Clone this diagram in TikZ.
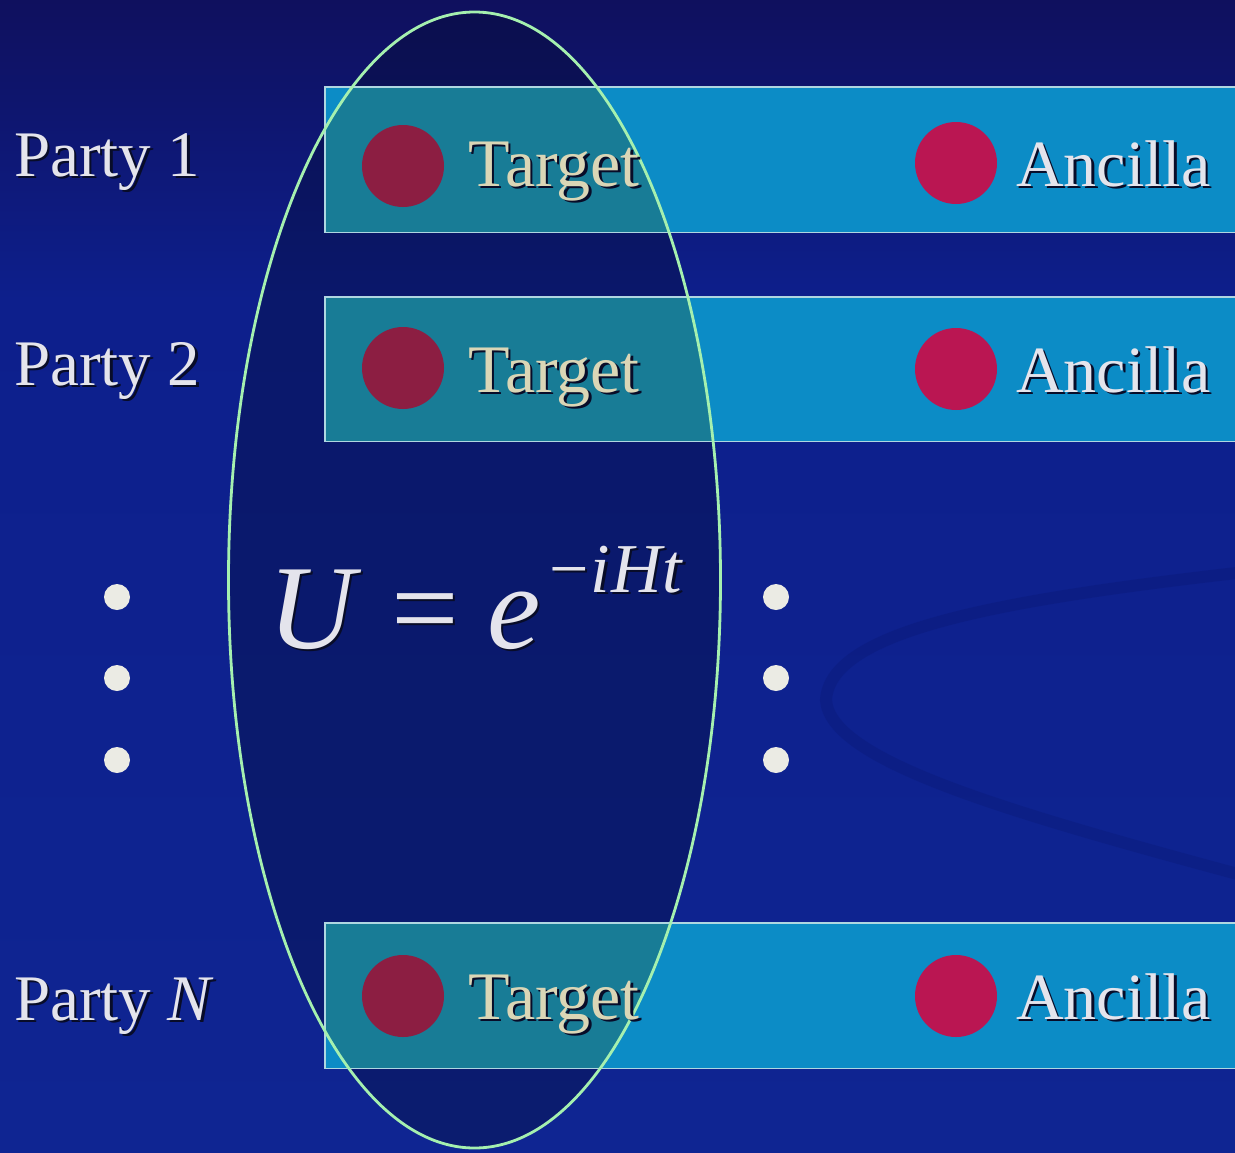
\documentclass[tikz,border=0pt]{standalone}
\usepackage{fontspec}
\setmainfont{Liberation Serif}
\usetikzlibrary{shapes.geometric}

\definecolor{bgtop}{RGB}{15,16,94}
\definecolor{bgmid}{RGB}{13,31,140}
\definecolor{bgbot}{RGB}{15,37,146}
\definecolor{swooshc}{RGB}{9,22,112}
\definecolor{ovalshade}{RGB}{4,10,40}
\definecolor{ovalline}{RGB}{165,240,175}
\definecolor{barcyan}{RGB}{12,140,198}
\definecolor{barteal}{RGB}{24,124,150}
\definecolor{barline}{RGB}{175,215,225}
\definecolor{qubitout}{RGB}{186,22,82}
\definecolor{qubitin}{RGB}{140,30,66}
\definecolor{labelc}{RGB}{228,228,236}
\definecolor{targetc}{RGB}{218,214,182}
\definecolor{dotc}{RGB}{235,235,228}
\definecolor{shadowc}{RGB}{8,12,40}

% text with a small drop shadow
\newcommand\shadowed[2]{\makebox[0pt][l]{\hspace{2.5pt}\raisebox{-2.5pt}{\color{shadowc}#2}}{\color{#1}#2}}

\begin{document}
\begin{tikzpicture}[x=1pt,y=-1pt,
  oval/.style={ellipse, minimum width=492pt, minimum height=1136pt, inner sep=0pt},
  bar/.style={rectangle, anchor=north west, fill=barcyan, inner sep=0pt, minimum width=930pt},
  barframe/.style={draw=barline, line width=1.6pt},
  qubit/.style={circle, minimum size=82pt, inner sep=0pt},
  party/.style={anchor=base west, inner sep=0pt, font=\fontsize{65}{70}\selectfont},
  tlabel/.style={anchor=base west, inner sep=0pt, font=\fontsize{68}{72}\selectfont},
  alabel/.style={anchor=base west, inner sep=0pt, font=\fontsize{66}{70}\selectfont},
  vdot/.style={circle, fill=dotc, minimum size=26pt, inner sep=0pt}]
\useasboundingbox (0,0) rectangle (1235,1152);
\clip (0,0) rectangle (1235,1152);

% background
\shade[top color=bgtop, bottom color=bgmid] (0,0) rectangle (1235,300);
\shade[top color=bgmid, bottom color=bgbot] (0,300) rectangle (1235,1152);
\draw[swooshc, line width=12pt, line cap=round, opacity=0.3]
  (1245,572) .. controls (1000,600) and (830,630) .. (826,700)
  .. controls (830,760) and (1000,810) .. (1245,876);

% the oval region, a translucent darkening of the background
\node[oval, fill=ovalshade, fill opacity=0.32] (U) at (474.5,580) {};

% party bars
\node[bar, minimum height=145pt] (bar1) at (325,87) {};
\node[bar, minimum height=144pt] (bar2) at (325,297) {};
\node[bar, minimum height=145pt] (barN) at (325,923) {};
\begin{scope}
  \clip (U.center) ellipse [x radius=246pt, y radius=568pt];
  \foreach \b in {bar1,bar2,barN}
    \fill[barteal] (\b.north west) rectangle (\b.south east);
\end{scope}
\foreach \b in {bar1,bar2,barN}
  \draw[barframe] (\b.north west) rectangle (\b.south east);

% qubits
\node[qubit, fill=qubitin]  (t1) at (403,166) {};
\node[qubit, fill=qubitout] (a1) at (956,163) {};
\node[qubit, fill=qubitin]  (t2) at (403,368) {};
\node[qubit, fill=qubitout] (a2) at (956,369) {};
\node[qubit, fill=qubitin]  (tN) at (403,996) {};
\node[qubit, fill=qubitout] (aN) at (956,996) {};

% oval outline
\draw[ovalline, line width=2.8pt] (U.center) ellipse [x radius=246pt, y radius=568pt];

% labels
\node[party] (p1) at (14,176) {\shadowed{labelc}{Party 1}};
\node[party] (p2) at (14,385) {\shadowed{labelc}{Party 2}};
\node[party] (pN) at (14,1020) {\shadowed{labelc}{Party \textit{N}}};

\node[tlabel] (l1) at (468,186) {\shadowed{targetc}{Target}};
\node[tlabel] (l2) at (468,392) {\shadowed{targetc}{Target}};
\node[tlabel] (lN) at (468,1019) {\shadowed{targetc}{Target}};

\node[alabel] (m1) at (1016,186) {\shadowed{labelc}{Ancilla}};
\node[alabel] (m2) at (1016,392) {\shadowed{labelc}{Ancilla}};
\node[alabel] (mN) at (1016,1019) {\shadowed{labelc}{Ancilla}};

% evolution operator
\node[anchor=base west, inner sep=0pt, font=\fontsize{120}{120}\selectfont] (eq) at (268,648)
  {\shadowed{labelc}{\textit{U}\kern30pt=\kern28pt\textit{e}\kern9pt\raisebox{56pt}{\fontsize{70}{70}\selectfont −\kern2pt\textit{i\kern1ptH\kern1ptt}}}};

% vertical ellipsis dots
\node[vdot] (dl1) at (117,597) {};
\node[vdot] (dl2) at (117,678) {};
\node[vdot] (dl3) at (117,760) {};
\node[vdot] (dr1) at (776,597) {};
\node[vdot] (dr2) at (776,678) {};
\node[vdot] (dr3) at (776,760) {};
\end{tikzpicture}
\end{document}
